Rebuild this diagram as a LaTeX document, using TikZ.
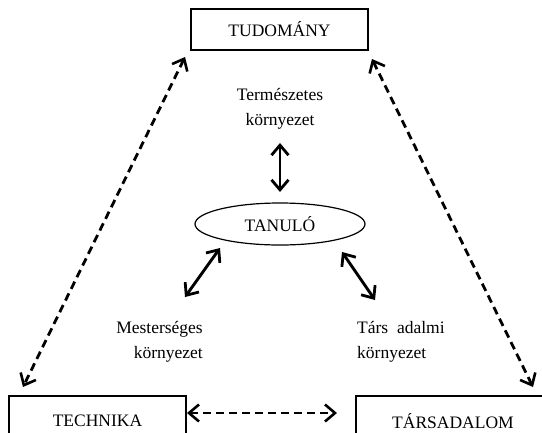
\documentclass[tikz,border=0pt]{standalone}
\usepackage{fontspec}
\setmainfont{Liberation Serif}
\usetikzlibrary{arrows.meta,shapes.geometric}
\tikzset{
  box/.style={draw, line width=1.3pt, inner sep=0pt, font=\fontsize{17.5}{21}\selectfont},
  lbl/.style={inner sep=0pt, font=\fontsize{17.5}{25.5}\selectfont},
  dasharrow/.style={line width=2.8pt, dash pattern=on 8pt off 5pt, {Straight Barb[length=10pt,width=17pt,line width=2.6pt]}-{Straight Barb[length=10pt,width=17pt,line width=2.6pt]}},
  solidarrow/.style={line width=2.9pt, {Straight Barb[length=10pt,width=17pt,line width=2.8pt]}-{Straight Barb[length=10pt,width=17pt,line width=2.8pt]}}
}
\begin{document}
\begin{tikzpicture}[x=1pt,y=-1pt]
\useasboundingbox (0,0) rectangle (542,432);
\clip (0,0) rectangle (542,432);
\fill[white] (0,0) rectangle (542,432);
\node[box, minimum width=177pt, minimum height=41pt] (tud) at (279.5,29.5) {TUDOM\'ANY};
\node[box, minimum width=177pt, minimum height=50pt] (tech) at (97.5,421) {TECHNIKA};
\node[box, minimum width=194pt, minimum height=50pt] (tars) at (453,421) {T\'ARSADALOM};
\node[draw, ellipse, line width=1.2pt, minimum width=170pt, minimum height=42pt, inner sep=0pt, font=\fontsize{17.5}{21}\selectfont] (tan) at (280,224) {TANUL\'O};
\node[lbl, align=center] (term) at (280,109) {Természetes\\környezet};
\node[lbl, align=right, anchor=east] (mest) at (203,342) {Mesterséges\\környezet};
\node[lbl, align=left, anchor=west] (tarsk) at (357,342) {Társ\ \ adalmi\\környezet};
% dashed arrows
\coordinate (a1) at (185,57);
\coordinate (a2) at (23,387);
\coordinate (b1) at (372,59);
\coordinate (b2) at (533,387);
\coordinate (c1) at (187,413);
\coordinate (c2) at (337,413);
\draw[dasharrow] (a1) -- (a2);
\draw[dasharrow] (b1) -- (b2);
\draw[dasharrow] (c1) -- (c2);
% solid arrows
\coordinate (d1) at (280,143);
\coordinate (d2) at (280,192);
\coordinate (e1) at (220,248);
\coordinate (e2) at (185,297);
\coordinate (f1) at (342,252);
\coordinate (f2) at (375,300);
\draw[solidarrow] (d1) -- (d2);
\draw[solidarrow] (e1) -- (e2);
\draw[solidarrow] (f1) -- (f2);
\end{tikzpicture}
\end{document}
